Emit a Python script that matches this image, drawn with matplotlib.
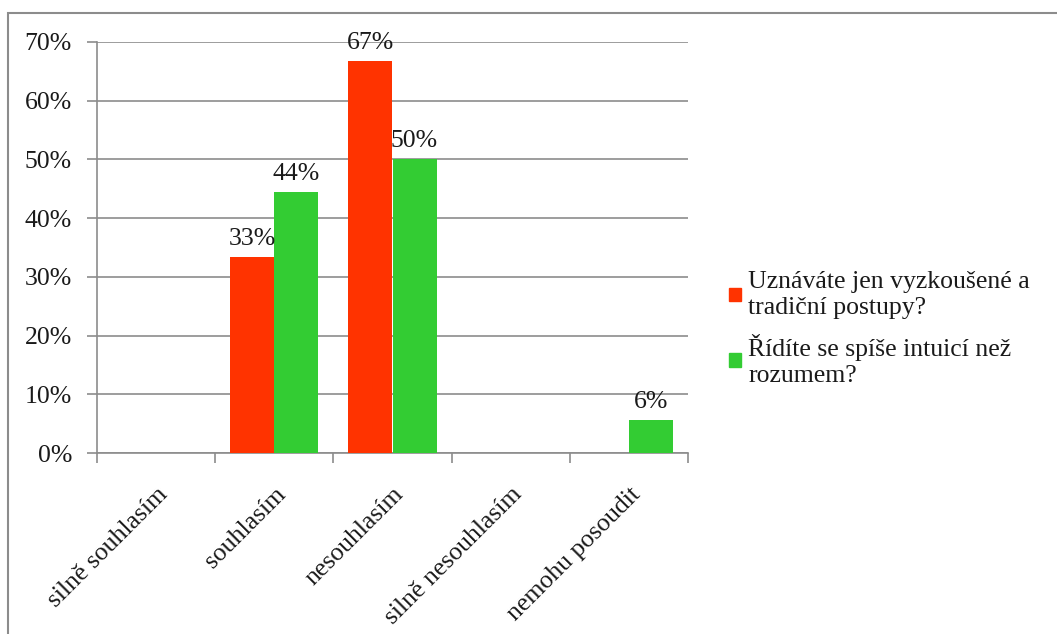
import matplotlib
matplotlib.use("Agg")
import matplotlib.pyplot as plt
import numpy as np
from matplotlib.patches import Rectangle

categories = ["silně souhlasím", "souhlasím", "nesouhlasím", "silně nesouhlasím", "nemohu posoudit"]
series_names = ["Uznáváte jen vyzkoušené a\ntradiční postupy?", "Řídíte se spíše intuicí než\nrozumem?"]
series_a = [0.0, 33.3, 66.7, 0.0, 0.0]
series_b = [0.0, 44.4, 50.0, 0.0, 5.6]
colors = ["#FF3300", "#33CC33"]
yticks = [0, 10, 20, 30, 40, 50, 60, 70]

plt.rcParams['font.family'] = ['Liberation Serif', 'DejaVu Serif']
FS = 18.5
W, H = 1057, 634
fig = plt.figure(figsize=(W/100, H/100), dpi=100)
fig.patches.append(Rectangle((8/W, -0.1), 1.2, (H-13)/H + 0.1, transform=fig.transFigure,
                             fill=False, edgecolor="#8c8c8c", linewidth=1.5))

ax = fig.add_axes([97/W, 1-453/H, (688-97)/W, (453-42)/H])
x = np.arange(len(categories))
bw = 0.373
grey = "#8c8c8c"
for vals, col, off in [(series_a, colors[0], -bw/2), (series_b, colors[1], bw/2)]:
    ax.bar(x + off, vals, width=bw, color=col, zorder=3)
    for xi, v in zip(x + off, vals):
        if v > 0:
            ax.annotate(f"{v:.0f}%", (xi, v), xytext=(0, 9), textcoords="offset points",
                        ha="center", va="baseline", fontsize=FS, color="#1a1a1a", zorder=4)

ax.set_xlim(-0.5, len(categories) - 0.5)
ax.set_ylim(0, 70)
ax.set_yticks(yticks)
ax.set_yticklabels([f"{t}%" for t in yticks], fontsize=FS, color="#1a1a1a")
ax.yaxis.grid(True, color=grey, linewidth=1.2, zorder=0)
ax.set_xticks(np.arange(-0.5, len(categories), 1.0))
ax.set_xticklabels([])
ax.set_xticks(x, minor=True)
ax.set_xticklabels(categories, minor=True, rotation=45, ha="right", va="top",
                   rotation_mode="anchor", fontsize=FS, color="#1a1a1a")
ax.tick_params(axis="x", which="minor", length=0, pad=22)
ax.tick_params(axis="x", which="major", length=7, color=grey, width=1.2)
ax.tick_params(axis="y", length=7, color=grey, width=1.2, pad=11)
for s in ["top", "right"]:
    ax.spines[s].set_visible(False)
for s in ["left", "bottom"]:
    ax.spines[s].set_color(grey)
    ax.spines[s].set_linewidth(1.2)

handles = [Rectangle((0, 0), 1, 1, color=c) for c in colors]
fig.legend(handles, series_names, loc="center left", bbox_to_anchor=(729/W, 1-329/H),
           frameon=False, fontsize=FS, handlelength=0.45, handleheight=0.45,
           handletextpad=0.3, labelspacing=0.6, borderaxespad=0, borderpad=0,
           labelcolor="#1a1a1a")

fig.savefig("out.png", dpi=100)
